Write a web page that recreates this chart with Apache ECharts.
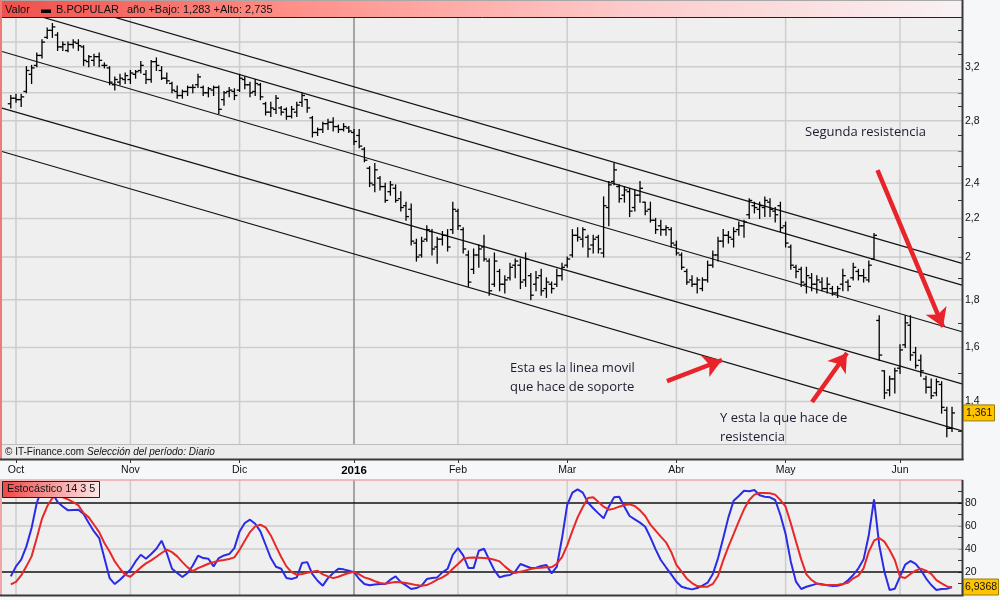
<!DOCTYPE html>
<html><head><meta charset="utf-8">
<script src="https://cdn.jsdelivr.net/npm/echarts@6/dist/echarts.min.js"></script>
<style>html,body{margin:0;padding:0;background:#f6f7f9;}#c{width:1000px;height:600px;}</style>
</head><body><div id="c"></div>
<script>
// ---------- data ----------
const monthLabels = ['Oct','Nov','Dic','2016','Feb','Mar','Abr','May','Jun'];
const monthStart  = [1, 23, 44, 66, 86, 107, 128, 149, 171]; // trading-day index of first session of month
const priceGrid   = [1.4,1.6,1.8,2.0,2.2,2.4,2.6,2.8,3.0,3.2,3.4];
const priceLabels = [1.4,1.6,1.8,2.0,2.2,2.4,2.8,3.2];
const priceTicks  = [1.3,1.4,1.5,1.6,1.7,1.8,1.9,2.0,2.1,2.2,2.3,2.4,2.5,2.6,2.7,2.8,2.9,3.0,3.1,3.2,3.3,3.4,3.5];
const priceRange  = [1.2146, 3.6174];
const stochLabels = [20,40,60,80];
const stochTicks  = [10,20,30,40,50,60,70,80,90];
const stochBlack  = [20,80];
const stochGray   = [40,60];
// daily OHLC [open, high, low, close], 30 Sep 2015 .. 14 Jun 2016
const bars = [
[2.92,2.98,2.89,2.96],[2.96,2.99,2.93,2.95],[2.95,2.99,2.90,2.97],[3.01,3.20,3.00,3.17],[3.14,3.21,3.07,3.19],
[3.21,3.31,3.20,3.29],[3.29,3.42,3.27,3.40],[3.44,3.52,3.43,3.50],[3.50,3.56,3.44,3.53],[3.46,3.48,3.33,3.36],
[3.36,3.40,3.33,3.38],[3.33,3.40,3.32,3.38],[3.38,3.42,3.35,3.40],[3.39,3.42,3.33,3.37],[3.36,3.37,3.21,3.25],
[3.24,3.29,3.20,3.28],[3.25,3.30,3.21,3.28],[3.28,3.31,3.20,3.25],[3.21,3.23,3.19,3.21],[3.19,3.20,3.06,3.08],
[3.06,3.12,3.02,3.10],[3.08,3.14,3.06,3.11],[3.10,3.15,3.07,3.13],[3.10,3.17,3.07,3.15],[3.14,3.17,3.11,3.16],
[3.17,3.24,3.15,3.21],[3.14,3.17,3.07,3.10],[3.10,3.25,3.08,3.24],[3.24,3.27,3.17,3.21],[3.17,3.20,3.10,3.11],
[3.11,3.15,3.07,3.09],[3.07,3.08,3.00,3.02],[3.01,3.05,2.96,2.98],[2.98,3.02,2.96,3.01],[3.01,3.05,2.98,3.04],
[3.04,3.06,3.00,3.04],[3.06,3.14,3.04,3.12],[3.04,3.05,2.98,3.00],[3.00,3.04,2.97,3.03],[3.02,3.05,2.98,3.04],
[3.04,3.05,2.85,2.88],[2.95,3.01,2.91,3.00],[3.01,3.04,2.97,3.02],[3.01,3.03,2.95,2.98],[3.02,3.14,3.01,3.11],
[3.10,3.12,3.03,3.06],[3.06,3.08,2.97,3.00],[3.01,3.10,2.98,3.07],[3.06,3.07,2.95,2.97],[2.92,2.93,2.84,2.86],
[2.86,2.93,2.83,2.89],[2.88,2.98,2.85,2.96],[2.89,2.90,2.84,2.86],[2.88,2.89,2.81,2.83],[2.83,2.90,2.82,2.88],
[2.86,2.93,2.83,2.91],[2.93,3.00,2.90,2.98],[2.95,2.95,2.86,2.89],[2.82,2.83,2.69,2.72],[2.72,2.75,2.70,2.74],
[2.74,2.79,2.72,2.78],[2.78,2.81,2.74,2.79],[2.79,2.82,2.73,2.76],[2.76,2.77,2.72,2.74],[2.74,2.78,2.73,2.76],
[2.75,2.76,2.72,2.73],[2.72,2.74,2.64,2.66],[2.70,2.74,2.62,2.63],[2.61,2.62,2.53,2.54],[2.49,2.50,2.38,2.40],
[2.39,2.52,2.35,2.48],[2.43,2.44,2.36,2.38],[2.38,2.40,2.29,2.30],[2.35,2.41,2.33,2.39],[2.37,2.39,2.29,2.30],
[2.31,2.35,2.24,2.26],[2.27,2.29,2.19,2.21],[2.25,2.28,2.06,2.08],[2.07,2.09,1.98,2.00],[2.01,2.10,2.00,2.08],
[2.09,2.16,2.08,2.14],[2.13,2.14,2.01,2.04],[2.05,2.10,1.97,2.09],[2.09,2.13,2.06,2.11],[2.11,2.14,2.03,2.05],
[2.14,2.29,2.12,2.25],[2.24,2.25,2.14,2.16],[2.14,2.15,2.02,2.04],[2.01,2.03,1.86,1.88],[1.94,2.04,1.92,2.01],
[2.01,2.06,1.95,2.04],[2.05,2.11,1.98,1.99],[1.98,1.99,1.82,1.84],[1.87,2.02,1.86,1.98],[1.93,1.94,1.84,1.87],
[1.87,1.91,1.83,1.89],[1.90,1.97,1.89,1.95],[1.96,1.99,1.90,1.98],[1.96,1.99,1.85,1.88],[1.89,2.02,1.86,1.99],
[1.91,1.92,1.80,1.82],[1.87,1.93,1.84,1.90],[1.91,1.94,1.82,1.84],[1.85,1.90,1.81,1.88],[1.87,1.88,1.83,1.85],
[1.87,1.94,1.86,1.91],[1.91,1.97,1.89,1.95],[1.96,2.00,1.95,1.99],[2.01,2.14,2.00,2.11],[2.11,2.15,2.08,2.10],
[2.09,2.15,2.05,2.14],[2.10,2.11,2.00,2.04],[2.06,2.11,2.02,2.09],[2.10,2.11,2.02,2.04],[2.02,2.32,2.00,2.27],
[2.26,2.41,2.16,2.39],[2.41,2.52,2.39,2.48],[2.38,2.39,2.29,2.31],[2.33,2.38,2.29,2.36],[2.35,2.37,2.21,2.24],
[2.26,2.36,2.24,2.33],[2.33,2.41,2.29,2.37],[2.29,2.29,2.22,2.24],[2.25,2.29,2.18,2.19],[2.19,2.20,2.12,2.14],
[2.16,2.19,2.11,2.14],[2.14,2.16,2.11,2.15],[2.14,2.15,2.05,2.07],[2.06,2.08,2.01,2.02],[2.01,2.02,1.94,1.95],
[1.93,1.94,1.87,1.88],[1.89,1.91,1.86,1.87],[1.87,1.90,1.83,1.89],[1.85,1.90,1.84,1.89],[1.89,1.98,1.88,1.96],
[1.96,2.03,1.95,2.01],[2.01,2.10,1.98,2.08],[2.08,2.14,2.05,2.11],[2.11,2.13,2.07,2.10],[2.09,2.15,2.05,2.13],
[2.14,2.18,2.11,2.16],[2.16,2.19,2.10,2.18],[2.22,2.31,2.20,2.30],[2.27,2.29,2.23,2.26],[2.25,2.29,2.20,2.27],
[2.26,2.32,2.21,2.30],[2.29,2.31,2.21,2.25],[2.24,2.26,2.18,2.22],[2.27,2.29,2.13,2.15],[2.16,2.18,2.05,2.07],
[2.05,2.06,1.94,1.96],[1.95,1.96,1.90,1.93],[1.94,1.95,1.86,1.88],[1.87,1.95,1.83,1.91],[1.90,1.92,1.84,1.87],
[1.87,1.91,1.83,1.89],[1.88,1.90,1.84,1.85],[1.85,1.90,1.83,1.87],[1.85,1.86,1.82,1.83],[1.83,1.86,1.81,1.85],
[1.87,1.94,1.84,1.91],[1.88,1.89,1.84,1.86],[1.90,1.97,1.89,1.95],[1.93,1.94,1.89,1.91],[1.91,1.94,1.88,1.90],
[1.89,1.98,1.88,1.96],[1.99,2.12,1.99,2.11],[1.71,1.73,1.55,1.57],[1.51,1.51,1.41,1.43],[1.44,1.49,1.42,1.48],
[1.48,1.52,1.43,1.51],[1.52,1.61,1.50,1.59],[1.61,1.73,1.60,1.70],[1.69,1.73,1.55,1.57],[1.58,1.60,1.52,1.53],
[1.55,1.57,1.49,1.51],[1.48,1.49,1.43,1.45],[1.45,1.48,1.41,1.42],[1.43,1.48,1.42,1.47],[1.46,1.47,1.36,1.38],
[1.37,1.38,1.283,1.31],[1.31,1.38,1.30,1.361]
];
const stochK = [
16.2,24.9,30.7,42.3,58.2,80,93,97,88.7,80.8,
77,73.6,73.9,74.2,70.4,62.6,55.3,49.5,32.1,14.7,
9.5,13.3,17.6,22,29.2,35,31.5,35.6,40.2,47.2,
36.5,22.8,19.1,15.6,19.1,25.7,34.2,32.1,31.5,24.9,
32.1,34.4,35.6,40.8,55.3,62.6,65.5,62,55.3,43.7,
32.1,24.6,22.8,14.7,13.9,15.3,27.8,28.6,18.2,12.4,
8.1,14.7,19.1,22.8,22.3,21.1,19.9,13.9,9.5,8.4,
9.2,9.5,9.5,13.3,16.2,11.2,8.4,5.2,6.0,8.1,
13.9,14.7,15.3,19.7,22.8,35.0,40.8,34.4,23.4,23.4,
38.5,40.2,30.7,21.4,15.3,16.8,17.4,20.3,27,25.2,
23.5,23.8,25.2,26.1,18.8,24.6,49.3,78.3,89,91.9,
89,80.3,75.4,71,66.7,76.8,84.9,85.5,76.8,68.7,
65.8,62.9,59.4,50.1,39.7,30.4,24.1,18,11.6,7.2,
5.8,4.9,6.1,8.1,10.7,18.3,31.9,49.3,67.5,82,
86.1,90.7,90.2,91.3,86.7,85.5,84.9,82.6,69.6,53.0,
29,11.6,5.2,7.2,8.4,9.9,9.3,8.4,7.8,8.1,
9.3,12.8,17.4,23.2,31,52.2,83.2,43.5,20.3,4.3,
5.5,15.9,26.4,29.6,27,21.7,14.5,8.7,4.3,5.2,
5.5,6.9368
];
const stochD = [
9.2,11.5,17,24.9,33.6,49.5,66.3,77.1,84.3,87.2,
84.9,83.1,80.8,77.9,71.3,67.5,61.1,54.7,45.2,37.9,
29.2,22.8,17.6,15.9,19.9,24,27.5,30.1,33.3,36.5,
39.4,37.3,33.6,28.6,24,20.8,23.4,25.2,27.2,28.6,
29.8,30.4,31.3,32.7,39.4,47.2,54.7,59.7,61.1,58.8,
51.8,42.3,33,24.9,19.9,17.6,18.2,19.4,20.2,21.1,
17.9,16.2,14.7,15.9,17.6,19.1,20.2,17.9,15.3,13.9,
12.1,10.4,9.8,10.7,11.3,11,10.4,9.5,8.6,8.1,
8.6,10.7,13.3,15.3,18.2,22.8,26.9,31.3,32.4,32.7,
32.4,32.1,31.8,30.7,29.2,24.9,21.2,19.1,20.3,21.4,
22.6,23.5,23.8,24.1,24.1,27.2,33,43.2,55.7,67.5,
76.5,84.4,84.9,80.9,76.8,74.2,75.1,76.8,78.3,78.8,
77.4,73.6,68.7,61.2,55.9,50.7,45.8,37.4,26.1,20.3,
14.2,10.4,7.8,7.2,7.2,9.6,16.5,30.1,42,53,
64.1,74.5,82.6,87.3,88.7,88.7,88.4,87.3,82.6,76.8,
62.3,46.4,31,18,13,9.9,9,8.7,8.7,9,
9.6,10.7,14.5,16.8,23.2,37.7,47.2,49.6,46.4,39.1,
30.4,15.9,14.8,18.3,21.2,22.9,21.2,18.3,13,10.1,
7.5,6.4
];
// channel lines: price at left edge, price at right edge of the panel
const channels = [[3.919,1.969],[3.723,1.866],[3.322,1.663],[2.889,1.462],[2.595,1.302]];
// annotation arrows: [startIdx, startPrice, endIdx, endPrice]
const arrows = [[166.67,2.479,179.27,1.683],[126.19,1.472,136.77,1.551],[154.08,1.398,160.8,1.578]];
const lastPrice = 1.361;
const lastStoch = 6.9368;

// ---------- chart ----------
const X_MIN = -1.69, X_MAX = 182.92;
const LN = Math.log;
const FONT = 'Liberation Sans';
const comma = s => String(s).replace('.', ',');

function hLines(xi, yi, vals, color, width, z) {
  return {type:'custom', xAxisIndex:xi, yAxisIndex:yi, silent:true, z:z,
    data: vals.map(v => [X_MIN, v]), encode:{x:0, y:1},
    renderItem:(params, api) => {
      const cs = params.coordSys; const p = api.coord([api.value(0), api.value(1)]);
      return {type:'line', shape:{x1:cs.x, y1:p[1], x2:cs.x+cs.width, y2:p[1]}, style:{stroke:color, lineWidth:width}};
    }};
}
function vLines(xi, yi, vals, yv, color, width, z) {
  return {type:'custom', xAxisIndex:xi, yAxisIndex:yi, silent:true, z:z,
    data: vals.map(v => [v, yv]), encode:{x:0, y:1},
    renderItem:(params, api) => {
      const cs = params.coordSys; const p = api.coord([api.value(0), api.value(1)]);
      return {type:'line', shape:{x1:p[0], y1:cs.y, x2:p[0], y2:cs.y+cs.height}, style:{stroke:color, lineWidth:width}};
    }};
}

const monthsNormal = monthStart.filter((v,i) => monthLabels[i] !== '2016');
const monthsYear = monthStart.filter((v,i) => monthLabels[i] === '2016');
const yMid = LN(2);

const series = [
  hLines(0, 0, priceGrid.map(LN), '#cdcdcd', 1.5, 1),
  vLines(0, 0, monthsNormal, yMid, '#cdcdcd', 1.5, 1),
  vLines(0, 0, monthsYear, yMid, '#8c8c8c', 1.5, 1),
  hLines(1, 1, stochGray, '#cdcdcd', 1.5, 1),
  vLines(1, 1, monthsNormal, 50, '#cdcdcd', 1.5, 1),
  vLines(1, 1, monthsYear, 50, '#8c8c8c', 1.5, 1),
  hLines(1, 1, stochBlack, '#111', 1.3, 2)
];
channels.forEach((c, i) => {
  const s = {type:'line', xAxisIndex:0, yAxisIndex:0, silent:true, z:3, clip:true,
    data:[[X_MIN, LN(c[0])],[X_MAX, LN(c[1])]], symbol:'none', showSymbol:false,
    lineStyle:{color:'#141414', width:1.2}};
  if (i === 0) {
    s.markLine = {silent:true, symbol:['none','arrow'], symbolSize:[17,18], animation:false,
      label:{show:false}, lineStyle:{color:'#e8232a', width:4.5, type:'solid'},
      emphasis:{disabled:true},
      data: arrows.map(a => [{coord:[a[0], LN(a[1])]}, {coord:[a[2], LN(a[3])]}])};
  }
  series.push(s);
});
series.push({
  type:'custom', xAxisIndex:0, yAxisIndex:0, z:4, silent:true,
  data: bars.map((b,i) => [i, LN(b[0]), LN(b[1]), LN(b[2]), LN(b[3])]),
  encode:{x:0, y:[1,2,3,4]},
  renderItem:(params, api) => {
    const x = api.value(0);
    const o = api.coord([x, api.value(1)]), h = api.coord([x, api.value(2)]),
          l = api.coord([x, api.value(3)]), c = api.coord([x, api.value(4)]);
    const st = {stroke:'#000', lineWidth:1.3};
    return {type:'group', children:[
      {type:'line', shape:{x1:h[0], y1:h[1]-0.5, x2:l[0], y2:l[1]+0.5}, style:st},
      {type:'line', shape:{x1:o[0]-3, y1:o[1], x2:o[0], y2:o[1]}, style:st},
      {type:'line', shape:{x1:c[0], y1:c[1], x2:c[0]+3, y2:c[1]}, style:st}
    ]};
  }
});
series.push({type:'line', xAxisIndex:1, yAxisIndex:1, z:5, silent:true, symbol:'none',
  data: stochK.map((v,i) => [i, v]), lineStyle:{color:'#2b2be6', width:2}});
series.push({type:'line', xAxisIndex:1, yAxisIndex:1, z:6, silent:true, symbol:'none',
  data: stochD.map((v,i) => [i, v]), lineStyle:{color:'#e82828', width:2}});

const grad4 = (stops) => new echarts.graphic.LinearGradient(0,0,1,0,stops.map(s => ({offset:s[0], color:s[1]})));

const baseGraphic = [
  // header
  {type:'rect', z:100, shape:{x:2,y:0,width:961,height:17}, style:{fill:grad4([[0,'#f0504b'],[0.31,'#ff9189'],[0.65,'#fdcaca'],[1,'#f8f2f4']])}},
  {type:'line', z:101, shape:{x1:2,y1:0.5,x2:963,y2:0.5}, style:{stroke:'#a8a8a8', lineWidth:1}},
  {type:'line', z:101, shape:{x1:2,y1:17.5,x2:963,y2:17.5}, style:{stroke:'#222', lineWidth:1}},
  {type:'text', z:102, x:5, y:9.5, style:{text:'Valor', font:'11px '+FONT, fill:'#111', verticalAlign:'middle'}},
  {type:'rect', z:102, shape:{x:41,y:9.5,width:10,height:3.5}, style:{fill:'#000'}},
  {type:'text', z:102, x:56, y:9.5, style:{text:'B.POPULAR', font:'11px '+FONT, fill:'#111', verticalAlign:'middle'}},
  {type:'text', z:102, x:127, y:9.5, style:{text:'año +Bajo: 1,283 +Alto: 2,735', font:'11px '+FONT, fill:'#111', verticalAlign:'middle'}},
  // bottom strip of main panel
  {type:'rect', z:100, shape:{x:2,y:445,width:960,height:14}, style:{fill:'#ececec'}},
  {type:'line', z:101, shape:{x1:2,y1:444.5,x2:962,y2:444.5}, style:{stroke:'#bdbdbd', lineWidth:1}},
  {type:'text', z:102, x:5, y:452, style:{text:'© IT-Finance.com', font:'10px '+FONT, fill:'#111', verticalAlign:'middle'}},
  {type:'text', z:102, x:87, y:452, style:{text:'Selección del período: Diario', font:'italic 10px '+FONT, fill:'#111', verticalAlign:'middle'}},
  // frames
  {type:'line', z:101, shape:{x1:1,y1:0,x2:1,y2:460}, style:{stroke:'#f07a7a', lineWidth:2}},
  {type:'line', z:101, shape:{x1:962.5,y1:0,x2:962.5,y2:460}, style:{stroke:'#3a3a3a', lineWidth:2}},
  {type:'line', z:101, shape:{x1:0,y1:459.5,x2:963.5,y2:459.5}, style:{stroke:'#3a3a3a', lineWidth:2}},
  {type:'line', z:101, shape:{x1:0,y1:480,x2:963,y2:480}, style:{stroke:'#f0a6a6', lineWidth:1.5}},
  {type:'line', z:101, shape:{x1:1,y1:480,x2:1,y2:596}, style:{stroke:'#f0a6a6', lineWidth:2}},
  {type:'line', z:101, shape:{x1:962.5,y1:480,x2:962.5,y2:596}, style:{stroke:'#3a3a3a', lineWidth:2}},
  {type:'line', z:101, shape:{x1:0,y1:595.5,x2:963.5,y2:595.5}, style:{stroke:'#3a3a3a', lineWidth:2}},
  // stochastic title box
  {type:'rect', z:102, shape:{x:2.5,y:481.5,width:97,height:16}, style:{fill:grad4([[0,'#f04545'],[0.4,'#f48a8a'],[1,'#fde8e8']]), stroke:'#222', lineWidth:1}},
  {type:'text', z:103, x:7, y:489.5, style:{text:'Estocástico 14 3 5', font:'10.8px '+FONT, fill:'#111', verticalAlign:'middle'}},
  // annotations
  {type:'text', z:102, x:805, y:132, style:{text:'Segunda resistencia', font:'13px "Open Sans"', fill:'#1c1c30', verticalAlign:'middle'}},
  {type:'text', z:102, x:510, y:368, style:{text:'Esta es la linea movil', font:'13px "Open Sans"', fill:'#1c1c30', verticalAlign:'middle'}},
  {type:'text', z:102, x:510, y:387, style:{text:'que hace de soporte', font:'13px "Open Sans"', fill:'#1c1c30', verticalAlign:'middle'}},
  {type:'text', z:102, x:720, y:418, style:{text:'Y esta la que hace de', font:'13px "Open Sans"', fill:'#1c1c30', verticalAlign:'middle'}},
  {type:'text', z:102, x:720, y:437, style:{text:'resistencia', font:'13px "Open Sans"', fill:'#1c1c30', verticalAlign:'middle'}}
];

const option = {
  animation:false,
  backgroundColor:'#f6f7f9',
  textStyle:{fontFamily:FONT},
  grid:[
    {left:2, right:38, top:17, height:442, show:true, backgroundColor:'#efefef', borderWidth:0},
    {left:2, right:38, top:480, height:115, show:true, backgroundColor:'#efefef', borderWidth:0}
  ],
  xAxis:[
    {gridIndex:0, type:'value', min:X_MIN, max:X_MAX, splitLine:{show:false}, axisLine:{show:false, onZero:false},
     axisTick:{show:true, customValues:monthStart, length:4, lineStyle:{color:'#333', width:1}},
     axisLabel:{customValues:monthStart, margin:6, fontSize:10.5, color:'#111', fontFamily:FONT,
       formatter:v => { const i = monthStart.indexOf(Math.round(v)); const t = monthLabels[i] || ''; return t === '2016' ? '{b|2016}' : t; },
       rich:{b:{fontWeight:'bold', fontSize:11.5, color:'#000', fontFamily:FONT}}}},
    {gridIndex:1, type:'value', min:X_MIN, max:X_MAX, show:false, axisLine:{onZero:false}}
  ],
  yAxis:[
    {gridIndex:0, type:'value', position:'right', min:LN(priceRange[0]), max:LN(priceRange[1]),
     splitLine:{show:false}, axisLine:{show:false, onZero:false},
     axisTick:{show:true, inside:true, length:4, customValues:priceTicks.map(LN), lineStyle:{color:'#333'}},
     axisLabel:{customValues:priceLabels.map(LN), margin:3, fontSize:10.5, color:'#111', fontFamily:FONT,
       formatter:v => { const r = Math.round(Math.exp(v)*10)/10; return comma(r % 1 === 0 ? String(r) : r.toFixed(1)); }}},
    {gridIndex:1, type:'value', position:'right', min:0, max:100,
     splitLine:{show:false}, axisLine:{show:false, onZero:false},
     axisTick:{show:true, inside:true, length:4, customValues:stochTicks, lineStyle:{color:'#333'}},
     axisLabel:{customValues:stochLabels, margin:3, fontSize:10.5, color:'#111', fontFamily:FONT}}
  ],
  graphic: baseGraphic,
  series: series
};

const chart = echarts.init(document.getElementById('c'));
chart.setOption(option);

const pY = chart.convertToPixel({gridIndex:0}, [X_MAX, LN(lastPrice)])[1];
const sY = chart.convertToPixel({gridIndex:1}, [X_MAX, lastStoch])[1];
option.graphic = baseGraphic.concat([
  {type:'rect', z:110, shape:{x:963.5, y:pY-8, width:31, height:16}, style:{fill:'#ffc400', stroke:'#9a7a00', lineWidth:1}},
  {type:'text', z:111, x:966, y:pY, style:{text:comma(lastPrice), font:'10.5px '+FONT, fill:'#111', verticalAlign:'middle'}},
  {type:'rect', z:110, shape:{x:963.5, y:sY-8, width:35, height:16}, style:{fill:'#ffc400', stroke:'#9a7a00', lineWidth:1}},
  {type:'text', z:111, x:965, y:sY, style:{text:comma(lastStoch), font:'10.5px '+FONT, fill:'#111', verticalAlign:'middle'}}
]);
chart.setOption(option, true);
</script>
</body></html>
